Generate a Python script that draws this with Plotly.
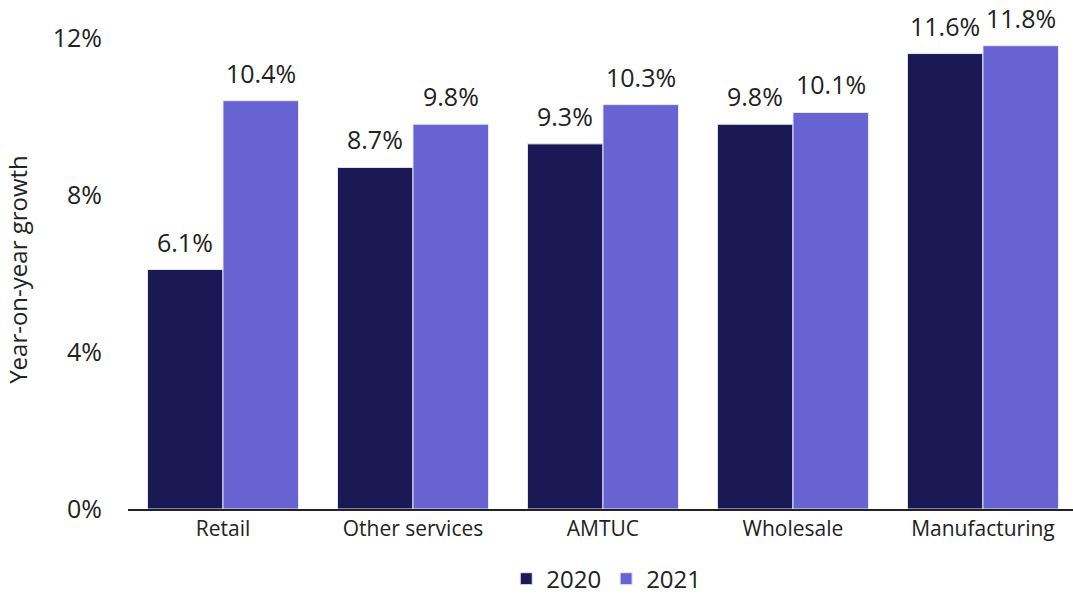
import plotly.graph_objects as go

categories = ["Retail", "Other services", "AMTUC", "Wholesale", "Manufacturing"]
values_2020 = [6.1, 8.7, 9.3, 9.8, 11.6]
values_2021 = [10.4, 9.8, 10.3, 10.1, 11.8]
series_names = ["2020", "2021"]
colors = ["#1B1856", "#6763D3"]
y_ticks = [0, 4, 8, 12]
y_tick_labels = ["0%", "4%", "8%", "12%"]

FONT = "Open Sans, Liberation Sans, Arial, sans-serif"
TXT = "#222222"

fig = go.Figure()
for name, vals, col in zip(series_names, [values_2020, values_2021], colors):
    fig.add_trace(go.Bar(
        x=categories, y=vals, name=name,
        marker=dict(color=col, line=dict(color="#E8E8F4", width=1)),
    ))

annotations = []
for vals, shift in zip([values_2020, values_2021], [-38, 38]):
    for c, v in zip(categories, vals):
        annotations.append(dict(
            x=c, y=v, text=f"{v:.1f}%", showarrow=False,
            xshift=shift, yshift=9, yanchor="bottom",
            font=dict(family=FONT, size=25, color=TXT),
        ))

fig.update_layout(
    width=1073, height=597,
    margin=dict(l=128, r=0, t=30, b=88, autoexpand=False),
    plot_bgcolor="white", paper_bgcolor="white",
    barmode="group", bargap=0.205, bargroupgap=0,
    font=dict(family=FONT, color=TXT),
    annotations=annotations,
    legend=dict(
        orientation="h", x=0.565, xanchor="center", xref="container",
        y=0.03, yanchor="middle", yref="container",
        font=dict(family=FONT, size=24, color=TXT),
        itemwidth=30, traceorder="normal",
    ),
    xaxis=dict(
        range=[-0.5, 4.474], showline=True, linecolor=TXT, linewidth=1.5,
        tickfont=dict(family=FONT, size=21, color=TXT), ticks="",
        showgrid=False, automargin=False,
    ),
    yaxis=dict(
        range=[0, 12.2], tickvals=y_ticks, ticktext=y_tick_labels,
        tickfont=dict(family=FONT, size=25, color=TXT),
        showgrid=False, zeroline=False, showline=False, ticklabelstandoff=25,
        automargin=False,
        title=dict(text="Year-on-year growth", font=dict(family=FONT, size=24, color=TXT), standoff=18),
    ),
)

fig.write_html(
    "out.html",
    config={"displayModeBar": False},
    post_script="document.body.style.margin='0px';document.body.style.overflow='hidden';",
)
